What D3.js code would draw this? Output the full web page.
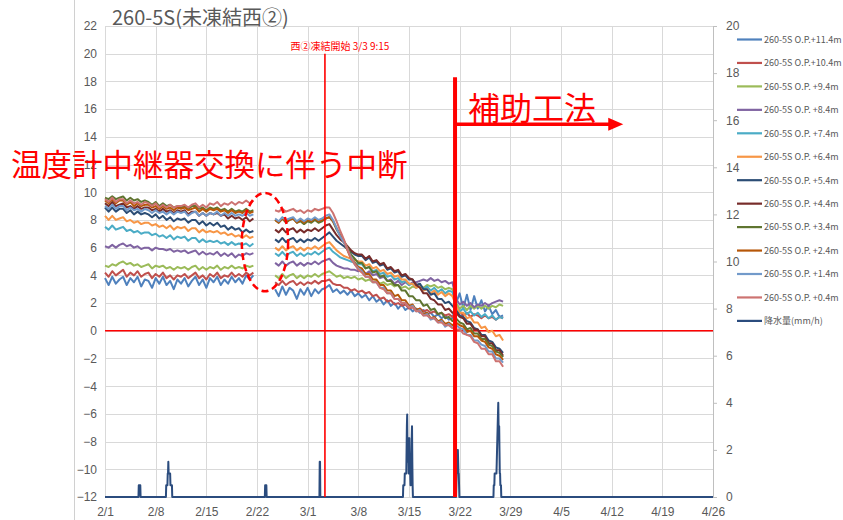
<!DOCTYPE html>
<html><head><meta charset="utf-8">
<script src="https://cdn.jsdelivr.net/npm/d3@7"></script>
<style>
html,body{margin:0;padding:0;background:#fff;}
svg{display:block;}
</style></head><body>
<svg id="chart" width="843" height="520"></svg>
<script>
// ---------------- data ----------------
const chartTitle = "260-5S(未凍結西②)";
const startDate = Date.UTC(2023, 1, 1);            // 2/1
const xTickLabels = ["2/1","2/8","2/15","2/22","3/1","3/8","3/15","3/22","3/29","4/5","4/12","4/19","4/26"];
const leftTicks = [-12,-10,-8,-6,-4,-2,0,2,4,6,8,10,12,14,16,18,20,22];
const rightTicks = [0,2,4,6,8,10,12,14,16,18,20];

// sample days (offset from 2/1), 12 h step; gap (relay replacement) between the segments
const seg1Days = d3.range(0, 21, 0.5);      // 2/1 .. 2/21 12:00
const gapDay = 22;
const seg2Days = d3.range(23.5, 55.5, 0.5); // 2/24 12:00 .. 3/28

const seriesNames = ["260-5S O.P.+11.4m","260-5S O.P.+10.4m","260-5S O.P. +9.4m","260-5S O.P. +8.4m",
  "260-5S O.P. +7.4m","260-5S O.P. +6.4m","260-5S O.P. +5.4m","260-5S O.P. +4.4m",
  "260-5S O.P. +3.4m","260-5S O.P. +2.4m","260-5S O.P. +1.4m","260-5S O.P. +0.4m"];
const seriesColors = ["#4f81bd","#c0504d","#9bbb59","#8064a2","#4bacc6","#f79646",
  "#2c4d75","#772c2a","#5f7530","#b65708","#729aca","#cd7371"];

const op114a = [3.8,3.3,3.9,3.4,3.7,3.9,3.3,3.8,3.5,3.9,3.2,3.7,3.6,3.1,3.8,3.4,3.9,3.3,3.6,3.0,3.7,3.4,3.8,3.2,3.6,3.9,3.3,3.7,3.1,3.8,3.5,3.9,3.3,3.7,3.4,3.9,3.5,3.8,3.4,4.0,3.7,4.0];
const op114b = [3.0,2.5,3.2,2.6,3.1,2.9,2.3,3.0, 2.6,3.1,2.5,3.0,2.7,3.0,3.1,3.3, 2.8,3.0,2.7,2.9,2.6,2.9,2.5,2.7, 2.4,2.6,2.2,2.5,2.1,2.3,1.9,2.2, 1.8,2.0,1.6,1.9,1.5,1.7,1.4,1.6, 1.3,1.5,1.2,1.3,1.0,1.2,0.9,1.1, 0.8,0.9,2.0,2.7,1.6,2.6,1.5,2.5, 1.6,2.2,1.4,1.8,1.2,1.5,1.0,1.1];
const op104a = [4.2,3.9,4.3,4.0,4.2,4.4,3.9,4.2,4.0,4.3,3.9,4.1,4.2,3.8,4.1,3.9,4.2,3.8,4.0,3.7,4.0,3.9,4.1,3.8,4.0,4.2,3.8,4.0,3.7,4.1,3.9,4.2,3.8,4.0,3.9,4.2,3.9,4.1,3.9,4.2,4.0,4.2];
const op104b = [3.5,3.3,3.6,3.3,3.5,3.6,3.3,3.5, 3.3,3.5,3.4,3.6,3.4,3.6,3.6,3.7, 3.4,3.3,3.3,3.1,3.1,2.9,3.0,2.8, 2.9,2.7,2.8,2.5,2.6,2.3,2.4,2.1, 2.2,1.9,2.0,1.8,1.9,1.6,1.7,1.5, 1.6,1.4,1.5,1.3,1.4,1.2,1.3,1.1, 1.2,1.0,1.2,1.4,1.1,1.3,1.0,1.2, 1.1,0.9,1.1,0.9,1.0,0.8,1.0,0.9];
const op94a = [4.7,4.6,4.8,4.7,4.9,5.0,4.8,4.9,4.7,4.8,4.6,4.7,4.8,4.5,4.7,4.6,4.7,4.5,4.6,4.4,4.6,4.5,4.6,4.4,4.6,4.7,4.4,4.6,4.4,4.6,4.5,4.7,4.4,4.6,4.5,4.7,4.5,4.6,4.5,4.7,4.6,4.7];
const op94b = [4.0,3.8,4.1,3.8,4.0,4.1,3.8,4.0, 3.8,4.0,3.9,4.1,3.9,4.1,4.2,4.3, 4.1,3.9,4.0,3.8,3.9,3.8,3.9,3.7, 3.8,3.6,3.7,3.5,3.6,3.4,3.5,3.3, 3.4,3.2,3.3,3.1,3.2,3.0,3.2,3.1, 3.3,3.1,3.3,3.2,3.3,3.1,3.2,3.0, 3.1,3.0,2.0,1.6,1.8,1.5,1.8,1.6, 1.8,1.6,1.8,1.6,1.8,1.7,1.9,1.8];
const op84a = [6.1,6.0,6.2,6.0,6.2,6.3,6.1,6.2,6.0,6.1,5.9,6.0,6.0,5.8,6.0,5.9,5.9,5.8,5.9,5.7,5.8,5.7,5.8,5.6,5.7,5.8,5.5,5.7,5.5,5.6,5.5,5.7,5.4,5.6,5.4,5.6,5.3,5.5,5.4,5.6,5.5,5.6];
const op84b = [4.9,4.7,5.0,4.7,4.9,5.0,4.7,4.9, 4.7,4.9,4.8,5.0,4.8,5.0,5.1,5.2, 4.9,4.7,4.6,4.5,4.5,4.4,4.4,4.3, 4.4,4.1,4.3,4.0,4.1,3.8,3.9,3.6, 3.7,3.4,3.6,3.3,3.5,3.3,3.5,3.5, 3.6,3.7,3.6,3.8,3.6,3.7,3.5,3.6, 3.4,3.5,2.3,1.9,2.1,1.8,2.0,1.7, 1.9,1.8,2.0,1.8,2.0,2.1,2.2,2.1];
const op74a = [7.5,7.3,7.6,7.3,7.4,7.5,7.2,7.3,7.1,7.2,7.0,7.1,7.1,6.9,7.0,6.8,6.9,6.7,6.9,6.6,6.8,6.7,6.8,6.5,6.7,6.7,6.4,6.6,6.4,6.5,6.4,6.5,6.3,6.4,6.2,6.4,6.2,6.3,6.2,6.3,6.1,6.3];
const op74b = [5.6,5.4,5.7,5.4,5.6,5.7,5.4,5.6, 5.4,5.6,5.5,5.7,5.5,5.7,5.9,6.0, 5.7,5.5,5.3,5.2,5.1,5.0,4.9,4.8, 4.8,4.5,4.6,4.3,4.4,4.1,4.2,3.9, 4.0,3.7,3.8,3.5,3.6,3.3,3.4,3.1, 3.3,3.0,3.2,2.9,3.1,2.8,3.0,2.7, 2.9,2.8,1.8,1.4,1.6,1.2,1.4,1.1, 1.3,1.0,1.2,0.9,1.1,0.8,1.0,0.9];
const op64a = [8.3,8.0,8.3,8.0,8.1,8.2,7.9,8.0,7.8,7.9,7.7,7.8,7.8,7.6,7.7,7.5,7.6,7.4,7.6,7.3,7.5,7.4,7.5,7.2,7.4,7.4,7.1,7.3,7.1,7.2,7.1,7.2,7.0,7.1,6.9,7.0,6.8,6.9,6.7,6.9,6.7,6.8];
const op64b = [6.0,5.8,6.1,5.8,6.0,6.1,5.8,6.0, 5.8,6.0,5.9,6.1,5.9,6.1,6.3,6.4, 6.1,5.8,5.6,5.4,5.3,5.2,5.1,5.0, 5.0,4.7,4.8,4.5,4.6,4.3,4.4,4.1, 4.2,3.9,4.0,3.7,3.7,3.4,3.4,3.1, 3.2,2.9,3.0,2.7,2.9,2.6,2.8,2.5, 2.7,2.5,1.8,1.3,1.3,0.9,1.0,0.6, 0.6,0.2,0.3,-0.1,0.0,-0.4,-0.3,-0.7];
const op54a = [8.9,8.6,8.9,8.6,8.8,8.8,8.5,8.7,8.4,8.6,8.4,8.5,8.4,8.2,8.4,8.1,8.3,8.0,8.2,7.9,8.1,8.0,8.1,7.8,8.0,8.0,7.7,7.9,7.6,7.8,7.6,7.8,7.5,7.6,7.3,7.5,7.3,7.4,7.1,7.3,7.1,7.2];
const op54b = [6.6,6.4,6.7,6.4,6.6,6.7,6.4,6.6, 6.4,6.6,6.5,6.7,6.5,6.7,6.9,7.1, 6.8,6.5,6.3,6.1,5.9,5.7,5.5,5.4, 5.4,5.1,5.3,4.9,5.0,4.7,4.8,4.4, 4.5,4.2,4.3,3.9,4.0,3.7,3.7,3.3, 3.4,3.0,3.0,2.6,2.7,2.3,2.3,2.0, 2.1,1.8,1.5,1.1,1.0,0.7,0.6,0.2, 0.1,-0.3,-0.3,-0.7,-0.8,-1.2,-1.3,-1.6];
const op44a = [9.2,9.0,9.3,9.0,9.1,9.2,8.9,9.0,8.8,9.0,8.8,8.9,8.9,8.7,8.8,8.6,8.8,8.6,8.7,8.5,8.7,8.6,8.7,8.4,8.6,8.6,8.3,8.5,8.3,8.5,8.4,8.5,8.3,8.4,8.1,8.3,8.1,8.2,8.0,8.2,7.9,8.1];
const op44b = [7.3,7.1,7.4,7.1,7.3,7.4,7.1,7.3, 7.1,7.3,7.2,7.4,7.2,7.4,7.6,7.7, 7.3,6.9,6.6,6.4,6.1,5.8,5.6,5.5, 5.5,5.2,5.4,5.0,5.1,4.8,4.9,4.5, 4.6,4.3,4.4,4.0,4.1,3.8,3.7,3.3, 3.1,2.7,2.7,2.3,2.2,1.9,1.9,1.5, 1.6,1.3,1.3,1.0,0.9,0.5,0.5,0.1, 0.1,-0.4,-0.4,-0.9,-0.9,-1.4,-1.4,-1.8];
const op34a = [9.6,9.5,9.7,9.5,9.6,9.7,9.4,9.6,9.4,9.5,9.3,9.4,9.3,9.1,9.3,9.0,9.2,9.0,9.1,8.9,9.0,8.9,9.0,8.8,9.0,9.0,8.8,8.9,8.7,8.9,8.8,8.9,8.7,8.8,8.6,8.8,8.6,8.7,8.6,8.8,8.6,8.7];
const op34b = [8.0,7.8,8.1,7.8,8.0,8.1,7.8,7.9, 7.7,7.9,7.8,8.0,7.8,7.9,8.1,8.2, 7.9,7.3,6.9,6.5,6.0,5.5,5.2,4.9, 4.9,4.5,4.6,4.2,4.3,3.9,4.0,3.6, 3.6,3.3,3.3,2.9,2.9,2.5,2.5,2.2, 2.2,1.8,1.9,1.5,1.6,1.2,1.3,0.9, 1.0,0.7,0.9,0.6,0.5,0.1,0.2,-0.2, -0.2,-0.6,-0.6,-1.0,-1.1,-1.5,-1.6,-1.9];
const op24a = [9.4,9.2,9.5,9.2,9.4,9.4,9.1,9.3,9.0,9.2,9.0,9.1,9.1,8.9,9.0,8.8,9.0,8.8,8.9,8.7,8.9,8.8,8.9,8.7,8.8,8.9,8.6,8.8,8.6,8.8,8.7,8.8,8.6,8.7,8.5,8.7,8.5,8.6,8.5,8.7,8.5,8.6];
const op24b = [8.0,7.8,8.1,7.9,8.0,8.1,7.8,8.0, 7.8,8.0,7.9,8.1,7.9,8.0,8.1,8.2, 7.9,7.4,6.9,6.4,5.8,5.2,4.9,4.6, 4.5,4.1,4.1,3.7,3.7,3.3,3.3,2.9, 2.9,2.5,2.6,2.2,2.2,1.8,1.9,1.5, 1.6,1.2,1.3,0.9,1.0,0.7,0.8,0.5, 0.6,0.4,0.6,0.4,0.3,-0.1,0.0,-0.4, -0.4,-0.7,-0.8,-1.2,-1.3,-1.7,-1.8,-2.1];
const op14a = [9.0,8.8,9.1,8.8,9.0,9.0,8.7,8.9,8.7,8.8,8.6,8.8,8.7,8.5,8.7,8.5,8.6,8.4,8.6,8.4,8.6,8.5,8.6,8.3,8.5,8.6,8.3,8.5,8.3,8.5,8.4,8.6,8.3,8.5,8.3,8.5,8.3,8.4,8.3,8.5,8.3,8.4];
const op14b = [8.1,7.9,8.2,8.0,8.1,8.2,7.9,8.1, 7.9,8.1,8.0,8.2,8.0,8.1,8.3,8.4, 8.0,7.4,6.8,6.4,5.9,5.3,4.8,4.5, 4.3,3.9,3.9,3.5,3.5,3.1,3.1,2.7, 2.7,2.3,2.3,2.0,2.0,1.7,1.8,1.4, 1.5,1.1,1.2,0.8,0.9,0.6,0.7,0.3, 0.5,0.2,0.4,0.2,0.1,-0.3,-0.3,-0.7, -0.7,-1.0,-1.1,-1.5,-1.5,-2.0,-2.0,-2.3];
const op04a = [9.5,9.3,9.6,9.3,9.5,9.5,9.2,9.4,9.2,9.3,9.1,9.3,9.2,9.0,9.2,8.9,9.1,8.9,9.1,8.9,9.0,9.0,9.1,8.9,9.1,9.2,8.9,9.1,8.9,9.2,9.1,9.3,9.0,9.2,9.1,9.3,9.1,9.3,9.2,9.4,9.2,9.4];
const op04b = [8.7,8.6,8.8,8.6,8.7,8.8,8.6,8.7, 8.5,8.7,8.6,8.8,8.7,8.8,8.9,8.9, 8.5,7.9,7.2,6.6,5.9,5.2,4.8,4.4, 4.2,3.9,3.9,3.5,3.5,3.1,3.0,2.7, 2.7,2.3,2.3,2.0,2.0,1.7,1.7,1.4, 1.4,1.1,1.1,0.9,0.9,0.6,0.6,0.4, 0.4,0.2,0.1,0.1,-0.2,-0.3,-0.4,-0.8, -0.9,-1.3,-1.3,-1.7,-1.7,-2.2,-2.2,-2.6];

const seriesSeg1 = [op114a,op104a,op94a,op84a,op74a,op64a,op54a,op44a,op34a,op24a,op14a,op04a];
const seriesSeg2 = [op114b,op104b,op94b,op84b,op74b,op64b,op54b,op44b,op34b,op24b,op14b,op04b];

// precipitation (mm/h): hour index from 2/1 00:00 and value; all other hours are 0
const rainName = "降水量(mm/h)";
const rainColor = "#2b4c7e";
const rainHours = [112,113,114,115,116,117,
  203,204,205,206,207,208,209,210,211,212,213,214,215,216,217,218,219,220,221,222,
  531,532,533,534,535,
  712,713,
  989,990,991,992,993,994,995,996,997,998,999,1000,1001,1002,1003,1004,1005,1006,1007,1008,1009,1010,1011,1012,1013,1014,1015,1016,1017,1018,1019,1020,
  1165,1166,1167,1168,1169,1170,1171,1172,1173,1174,
  1289,1290,1291,1292,1293,1294,1295,1296,1297,1298,1299,1300,1301,1302,1303,1304,1305,1306,1307,1308,1309,1310,1311,1312,1313];
const rainMm = [0.5,0.5,0.5,0.5,0.5,0.5,
  0.5,0.5,0.5,0.5,0.5,1.0,1.0,1.5,1.0,1.0,1.0,1.0,1.0,1.0,0.5,0.5,0.5,0.5,0.5,0.5,
  0.5,0.5,0.5,0.5,0.5,
  1.5,1.5,
  0.5,0.5,0.5,0.5,0.5,1.0,1.0,1.0,1.0,1.0,1.0,2.0,3.0,3.5,2.0,1.5,2.5,2.0,1.0,1.5,2.5,1.5,1.0,1.0,0.5,0.5,1.0,1.5,2.5,3.0,1.5,0.5,
  0.5,1.0,2.0,1.5,1.5,2.0,1.5,1.0,1.0,0.5,
  0.5,0.5,0.5,1.0,1.0,1.0,1.0,1.0,1.0,1.0,1.5,2.0,2.5,3.0,3.5,4.0,3.0,2.5,3.0,2.0,1.0,1.0,0.5,0.5,0.5];
const rainEndHour = 84 * 24;

// annotations
const freezeStart = Date.UTC(2023, 2, 3, 9, 15);
const freezeLabel = "西②凍結開始 3/3 9:15";
const auxStart = Date.UTC(2023, 2, 21, 8, 40);
const auxLabel = "補助工法";
const gapLabel = "温度計中継器交換に伴う中断";

// ---------------- drawing ----------------
const svg = d3.select("#chart");
const W = 843, H = 520;
const plot = {left:105, right:713, top:26, bottom:497};
const dayMs = 864e5;
const dayToDate = d => new Date(startDate + d * dayMs);

const x = d3.scaleUtc().domain([dayToDate(0), dayToDate(84)]).range([plot.left, plot.right]);
const yL = d3.scaleLinear().domain([-12, 22]).range([plot.bottom, plot.top]);
const yR = d3.scaleLinear().domain([0, 20]).range([plot.bottom, plot.top]);
const parseTick = s => { const [m, d] = s.split("/").map(Number); return new Date(Date.UTC(2023, m - 1, d)); };
const xTicks = xTickLabels.map(parseTick);

const font = "'Liberation Sans', Arial, sans-serif";
const cjk = "'Noto Sans CJK JP', 'Noto Sans', sans-serif";
const grey = "#595959";

svg.append("rect").attr("width", W).attr("height", H).attr("fill", "#fff");
// outer chart-area border line at the left
svg.append("line").attr("x1", 74.5).attr("x2", 74.5).attr("y1", 0).attr("y2", H).attr("stroke", "#d0d0d0");

// gridlines
const grid = svg.append("g").attr("stroke", "#d9d9d9").attr("stroke-width", 1);
grid.selectAll(".h").data(leftTicks).join("line")
  .attr("x1", plot.left).attr("x2", plot.right)
  .attr("y1", d => Math.round(yL(d)) + 0.5).attr("y2", d => Math.round(yL(d)) + 0.5);
grid.selectAll(".v").data(xTicks).join("line")
  .attr("x1", d => Math.round(x(d)) + 0.5).attr("x2", d => Math.round(x(d)) + 0.5)
  .attr("y1", plot.top).attr("y2", plot.bottom);

// left axis
const axL = svg.append("g").attr("transform", `translate(${plot.left},0)`)
  .call(d3.axisLeft(yL).tickValues(leftTicks).tickSize(0).tickPadding(8).tickFormat(d3.format("d")));
axL.select(".domain").remove();
axL.selectAll("text").attr("font-family", font).attr("font-size", 12).attr("fill", grey);

// right axis
const axR = svg.append("g").attr("transform", `translate(${plot.right},0)`)
  .call(d3.axisRight(yR).tickValues(rightTicks).tickSize(4).tickPadding(9).tickFormat(d3.format("d")));
axR.select(".domain").attr("stroke", "#bfbfbf");
axR.selectAll(".tick line").attr("stroke", "#bfbfbf");
axR.selectAll("text").attr("font-family", font).attr("font-size", 12).attr("fill", grey);

// bottom axis labels
const axB = svg.append("g").attr("transform", `translate(0,${plot.bottom})`)
  .call(d3.axisBottom(x).tickValues(xTicks).tickSize(0).tickPadding(10).tickFormat((d, i) => xTickLabels[i]));
axB.select(".domain").remove();
axB.selectAll("text").attr("font-family", font).attr("font-size", 12).attr("fill", grey);

// zero line (red)
svg.append("line").attr("x1", plot.left).attr("x2", plot.right)
  .attr("y1", yL(0)).attr("y2", yL(0)).attr("stroke", "#ff0000").attr("stroke-width", 1.6);

// temperature series
const allDays = [...seg1Days, gapDay, ...seg2Days];
const line = d3.line().defined(d => d.v != null).x(d => x(dayToDate(d.t))).y(d => yL(d.v));
const tempG = svg.append("g").attr("fill", "none").attr("stroke-width", 2).attr("stroke-linejoin", "round");
seriesSeg1.forEach((s1, i) => {
  const vals = [...s1, null, ...seriesSeg2[i]];
  const pts = allDays.map((t, k) => ({t, v: vals[k]}));
  tempG.append("path").datum(pts).attr("d", line).attr("stroke", seriesColors[i]);
});

// rain (secondary axis) as an hourly line: zero except listed hours
const rainMap = new Map(rainHours.map((h, i) => [h, rainMm[i]]));
const rainPts = [{h: 0, v: 0}];
rainHours.forEach((h, i) => {
  if (!rainMap.has(h - 1)) rainPts.push({h: h - 1, v: 0});
  rainPts.push({h, v: rainMm[i]});
  if (!rainMap.has(h + 1)) rainPts.push({h: h + 1, v: 0});
});
rainPts.push({h: rainEndHour, v: 0});
const rainLine = d3.line().x(d => x(dayToDate(d.h / 24))).y(d => yR(d.v));
svg.append("path").datum(rainPts).attr("d", rainLine).attr("fill", "none")
  .attr("stroke", rainColor).attr("stroke-width", 2).attr("stroke-linejoin", "round");

// title
svg.append("text").attr("x", 112).attr("y", 25).attr("font-family", cjk).attr("font-size", 20)
  .attr("fill", grey).text(chartTitle);

// legend
const legendItems = seriesNames.map((n, i) => ({n, c: seriesColors[i]})).concat([{n: rainName, c: rainColor}]);
const lg = svg.append("g");
legendItems.forEach((d, i) => {
  const yy = 39.5 + i * 23.45;
  lg.append("line").attr("x1", 737).attr("x2", 762).attr("y1", yy).attr("y2", yy)
    .attr("stroke", d.c).attr("stroke-width", 2.2);
  lg.append("text").attr("x", 764).attr("y", yy + 3.3).attr("font-family", cjk).attr("font-size", 9)
    .attr("fill", grey).text(d.n);
});

// annotations
const red = "#ff0000";
svg.append("line").attr("x1", x(freezeStart)).attr("x2", x(freezeStart))
  .attr("y1", yL(20)).attr("y2", plot.bottom).attr("stroke", red).attr("stroke-width", 1.6);
svg.append("text").attr("x", x(freezeStart) + 15).attr("y", 50).attr("text-anchor", "middle")
  .attr("font-family", cjk).attr("font-size", 10).attr("fill", red).text(freezeLabel);

svg.append("line").attr("x1", x(auxStart)).attr("x2", x(auxStart))
  .attr("y1", yL(18.3)).attr("y2", plot.bottom).attr("stroke", red).attr("stroke-width", 4);
const arrowY = yL(14.9);
const arrowEnd = x(dayToDate(71.6));
svg.append("line").attr("x1", x(auxStart)).attr("x2", arrowEnd - 12)
  .attr("y1", arrowY).attr("y2", arrowY).attr("stroke", red).attr("stroke-width", 3.5);
svg.append("path").attr("d", `M${arrowEnd},${arrowY} L${arrowEnd - 15},${arrowY - 6.5} L${arrowEnd - 15},${arrowY + 6.5} Z`)
  .attr("fill", red);
svg.append("text").attr("x", x(auxStart) + 13).attr("y", arrowY - 4).attr("font-family", cjk)
  .attr("font-size", 32).attr("fill", red).text(auxLabel);

svg.append("text").attr("x", 11).attr("y", 176).attr("font-family", cjk)
  .attr("font-size", 30.5).attr("fill", red).text(gapLabel);

svg.append("ellipse").attr("cx", x(dayToDate(22.1))).attr("cy", yL(6.4))
  .attr("rx", x(dayToDate(25.3)) - x(dayToDate(22.1))).attr("ry", yL(6.4) - yL(9.95))
  .attr("fill", "none").attr("stroke", red).attr("stroke-width", 2.5).attr("stroke-dasharray", "7,4");
</script>
</body></html>
